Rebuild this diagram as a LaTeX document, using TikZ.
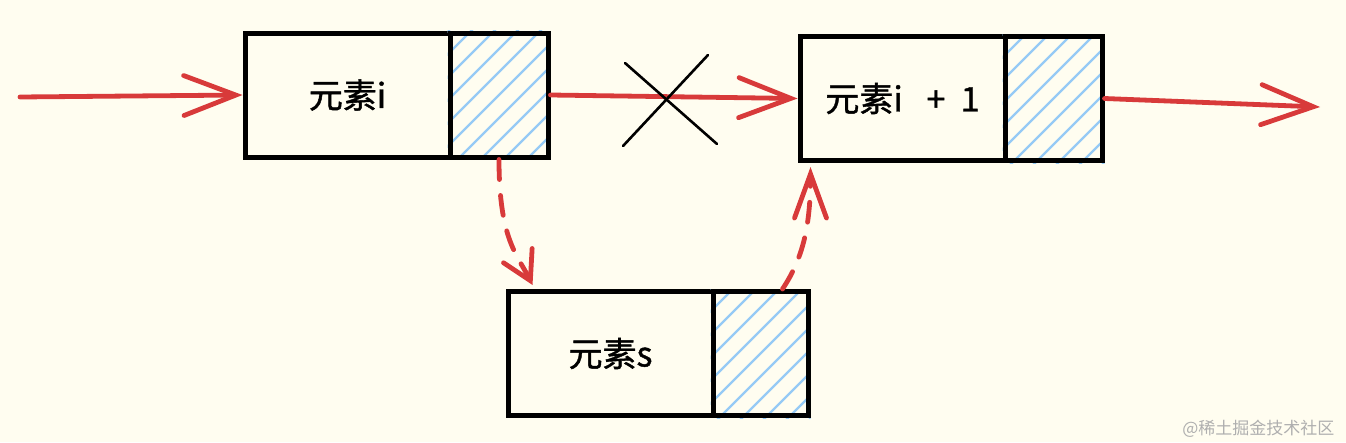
\documentclass[tikz,border=0pt]{standalone}
\usepackage{fontspec}
\newfontfamily\cjk{Noto Sans CJK SC}
\newfontfamily\cjkm[FakeBold=1.2]{Noto Sans CJK SC}
\usetikzlibrary{arrows.meta,calc}
\definecolor{bgcream}{RGB}{255,253,240}
\definecolor{sketchred}{RGB}{216,58,58}
\definecolor{hatchblue}{RGB}{150,202,245}
\definecolor{wmgray}{RGB}{175,175,175}
\tikzset{
  databox/.style={draw=black, line width=5pt, minimum height=124pt, inner sep=0pt, font=\cjkm\fontsize{34}{38}\selectfont},
  ptrbox/.style={draw=black, line width=5pt, minimum height=124pt, inner sep=0pt},
  hatchline/.style={draw=hatchblue, line width=2.4pt},
  redarrow/.style={draw=sketchred, line width=4.8pt, line cap=round, -{Straight Barb[length=52pt,width=40pt,line cap=round]}},
  dasharrow/.style={draw=sketchred, line width=4.8pt, line cap=round, dash pattern=on 20pt off 16pt},
  crossline/.style={draw=black, line width=2.6pt, line cap=round}
}
\newcommand{\hatchbox}[1]{%
  \begin{scope}
    \clip (#1.south west) rectangle (#1.north east);
    \foreach \k in {-161,-138,...,161}
      \draw[hatchline] ($(#1.center)+(\k-70,70)$) -- ++(140,-140);
  \end{scope}}
\begin{document}
\begin{tikzpicture}[x=1pt,y=-1pt]
  \fill[bgcream] (0,0) rectangle (1346,442);
  \useasboundingbox (0,0) rectangle (1346,442);

  % box 1
  \node[databox, minimum width=205pt] (b1) at (347.5,95) {元素i};
  \node[ptrbox, minimum width=98pt] (p1) at (499,95) {};
  % box 2
  \node[databox, minimum width=205pt] (b2) at (902.5,98.5) {元素i\hspace{0.7em}+\hspace{0.45em}1};
  \node[ptrbox, minimum width=97pt] (p2) at (1053.5,98.5) {};
  % box 3
  \node[databox, minimum width=205pt] (b3) at (610.5,353.5) {元素s};
  \node[ptrbox, minimum width=95pt] (p3) at (760.5,353.5) {};

  \hatchbox{p1}
  \hatchbox{p2}
  \hatchbox{p3}
  \node[ptrbox, minimum width=98pt] at (p1) {};
  \node[ptrbox, minimum width=97pt] at (p2) {};
  \node[ptrbox, minimum width=95pt] at (p3) {};

  % straight arrows
  \coordinate (in) at (20,97);
  \coordinate (out) at (1320,107);
  \draw[redarrow] (in) -- (b1.west);
  \draw[redarrow] (p1.east) -- (b2.west);
  \draw[redarrow] (p2.east) -- (out);

  % cross
  \coordinate (xa) at (625,63);
  \coordinate (xb) at (717,144);
  \coordinate (xc) at (708,55);
  \coordinate (xd) at (623,146);
  \draw[crossline] (xa) -- (xb);
  \draw[crossline] (xc) -- (xd);

  % dashed arrows
  \coordinate (t1) at ($(b3.north west)+(27,-4)$);
  \draw[dasharrow, -{Straight Barb[length=28pt,width=32pt,line cap=round]}]
    (p1.south) .. controls +(0,80) and +(-15,-30) .. (t1);
  \coordinate (s2) at ($(p3.north)+(22,0)$);
  \coordinate (t2) at ($(b2.south west)+(13,4)$);
  \draw[dasharrow, -{Straight Barb[length=44pt,width=32pt,line cap=round]}]
    (s2) .. controls +(20,-30) and +(0,60) .. (t2);

  % watermark
  \node[text=wmgray, font=\cjk\fontsize{17}{20}\selectfont, anchor=east] (wm) at (1338,429) {@稀土掘金技术社区};
\end{tikzpicture}
\end{document}
